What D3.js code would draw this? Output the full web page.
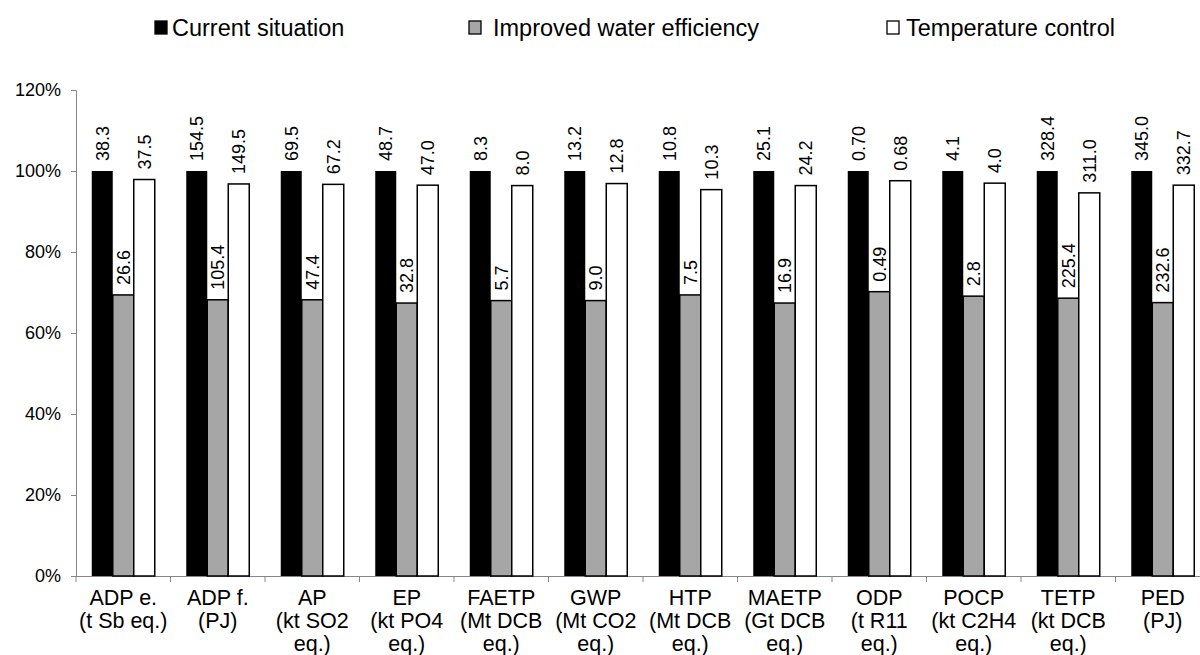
<!DOCTYPE html>
<html lang="en">
<head>
    <meta charset="UTF-8">
    <title>Impact comparison</title>
    <script src="https://cdn.jsdelivr.net/npm/d3@7"></script>
    <style>
        body { margin: 0; background: #fff; }
        svg { display: block; font-family: Arial, "Liberation Sans", sans-serif; }
        .tick_label { font-size: 18px; fill: #000; }
        .cat_label { font-size: 21.5px; fill: #000; }
        .value_label { font-size: 18px; fill: #000; }
        .legend_text { font-size: 23.5px; fill: #000; }
    </style>
</head>
<body>
<svg width="1200" height="655"></svg>
<script>
    // category labels (one entry per line)
    const categories = [
        ["ADP e.", "(t Sb eq.)"],
        ["ADP f.", "(PJ)"],
        ["AP", "(kt SO2", "eq.)"],
        ["EP", "(kt PO4", "eq.)"],
        ["FAETP", "(Mt DCB", "eq.)"],
        ["GWP", "(Mt CO2", "eq.)"],
        ["HTP", "(Mt DCB", "eq.)"],
        ["MAETP", "(Gt DCB", "eq.)"],
        ["ODP", "(t R11", "eq.)"],
        ["POCP", "(kt C2H4", "eq.)"],
        ["TETP", "(kt DCB", "eq.)"],
        ["PED", "(PJ)"]
    ];
    const seriesNames = ["Current situation", "Improved water efficiency", "Temperature control"];

    // absolute values written on top of the bars
    const currentValues = ["38.3", "154.5", "69.5", "48.7", "8.3", "13.2", "10.8", "25.1", "0.70", "4.1", "328.4", "345.0"];
    const waterValues = ["26.6", "105.4", "47.4", "32.8", "5.7", "9.0", "7.5", "16.9", "0.49", "2.8", "225.4", "232.6"];
    const tempValues = ["37.5", "149.5", "67.2", "47.0", "8.0", "12.8", "10.3", "24.2", "0.68", "4.0", "311.0", "332.7"];

    // bar heights in % of current situation
    const currentShare = [100, 100, 100, 100, 100, 100, 100, 100, 100, 100, 100, 100];
    const waterShare = [69.4, 68.2, 68.2, 67.4, 68.0, 68.0, 69.4, 67.4, 70.2, 69.1, 68.6, 67.5];
    const tempShare = [97.9, 96.8, 96.7, 96.5, 96.4, 96.9, 95.4, 96.4, 97.6, 97.0, 94.6, 96.5];

    const yTicks = [0, 20, 40, 60, 80, 100, 120];

    const seriesFill = ["#000000", "#a6a6a6", "#ffffff"];
    const axisColor = "#868686";

    const svg = d3.select("svg");
    const plotLeft = 76, plotRight = 1210, plotTop = 90, plotBottom = 576;

    const x = d3.scaleBand()
        .domain(d3.range(categories.length))
        .range([plotLeft, plotRight])
        .padding(0);

    const xInner = d3.scaleBand()
        .domain(d3.range(seriesNames.length))
        .range([0, x.bandwidth()])
        .paddingInner(0)
        .paddingOuter(0.75);

    const y = d3.scaleLinear().domain([0, 120]).range([plotBottom, plotTop]);

    // build rows
    const shares = [currentShare, waterShare, tempShare];
    const labels = [currentValues, waterValues, tempValues];
    let bars = [];
    categories.forEach(function (c, i) {
        for (let s = 0; s < 3; s++) {
            bars.push({ cat: i, s: s, share: shares[s][i], label: labels[s][i] });
        }
    });

    // y axis
    const yAxis = svg.append("g").attr("transform", `translate(${plotLeft},0)`)
        .call(d3.axisLeft(y).tickValues(yTicks).tickSize(5).tickPadding(10).tickFormat(d => d + "%"));
    yAxis.select(".domain").attr("stroke", axisColor).attr("stroke-width", 1);
    yAxis.selectAll(".tick line").attr("stroke", axisColor).attr("stroke-width", 1);
    yAxis.attr("font-size", null).attr("font-family", null);
    yAxis.selectAll(".tick text").attr("class", "tick_label");

    // x axis line and ticks
    const xAxis = svg.append("g");
    xAxis.append("line")
        .attr("x1", plotLeft).attr("x2", plotRight)
        .attr("y1", plotBottom + 0.5).attr("y2", plotBottom + 0.5)
        .attr("stroke", axisColor).attr("stroke-width", 1);
    xAxis.selectAll(".xtick")
        .data(d3.range(categories.length + 1))
        .join("line")
        .attr("class", "xtick")
        .attr("x1", d => plotLeft + d * x.step()).attr("x2", d => plotLeft + d * x.step())
        .attr("y1", plotBottom).attr("y2", plotBottom + 6)
        .attr("stroke", axisColor).attr("stroke-width", 1);

    // bars
    svg.append("g").selectAll("rect")
        .data(bars)
        .join("rect")
        .attr("x", d => x(d.cat) + xInner(d.s))
        .attr("width", xInner.bandwidth())
        .attr("y", d => y(d.share))
        .attr("height", d => y(0) - y(d.share))
        .attr("fill", d => seriesFill[d.s])
        .attr("stroke", "#000")
        .attr("stroke-width", d => d.s === 0 ? 0 : 1.5);

    // value labels
    svg.append("g").selectAll("text")
        .data(bars)
        .join("text")
        .attr("class", "value_label")
        .attr("transform", d => `translate(${x(d.cat) + xInner(d.s) + xInner.bandwidth() / 2},${y(d.share) - 10}) rotate(-90)`)
        .attr("dy", "0.35em")
        .attr("text-anchor", "start")
        .text(d => d.label);

    // category labels
    const catText = xAxis.selectAll(".cat_label")
        .data(categories)
        .join("text")
        .attr("class", "cat_label")
        .attr("text-anchor", "middle");
    catText.selectAll("tspan")
        .data((d, i) => d.map(t => ({ t: t, i: i })))
        .join("tspan")
        .attr("x", d => x(d.i) + x.bandwidth() / 2)
        .attr("y", (d, k) => 605 + k * 23)
        .text(d => d.t);

    // legend
    const legendX = [155, 469, 887];
    const legendTextX = [172, 493, 906];
    const legend = svg.append("g");
    seriesNames.forEach(function (name, s) {
        legend.append("rect")
            .attr("x", legendX[s]).attr("y", 21)
            .attr("width", 12).attr("height", 13)
            .attr("fill", seriesFill[s])
            .attr("stroke", "#000").attr("stroke-width", 1.3);
        legend.append("text")
            .attr("class", "legend_text")
            .attr("x", legendTextX[s]).attr("y", 36)
            .text(name);
    });
</script>
</body>
</html>
